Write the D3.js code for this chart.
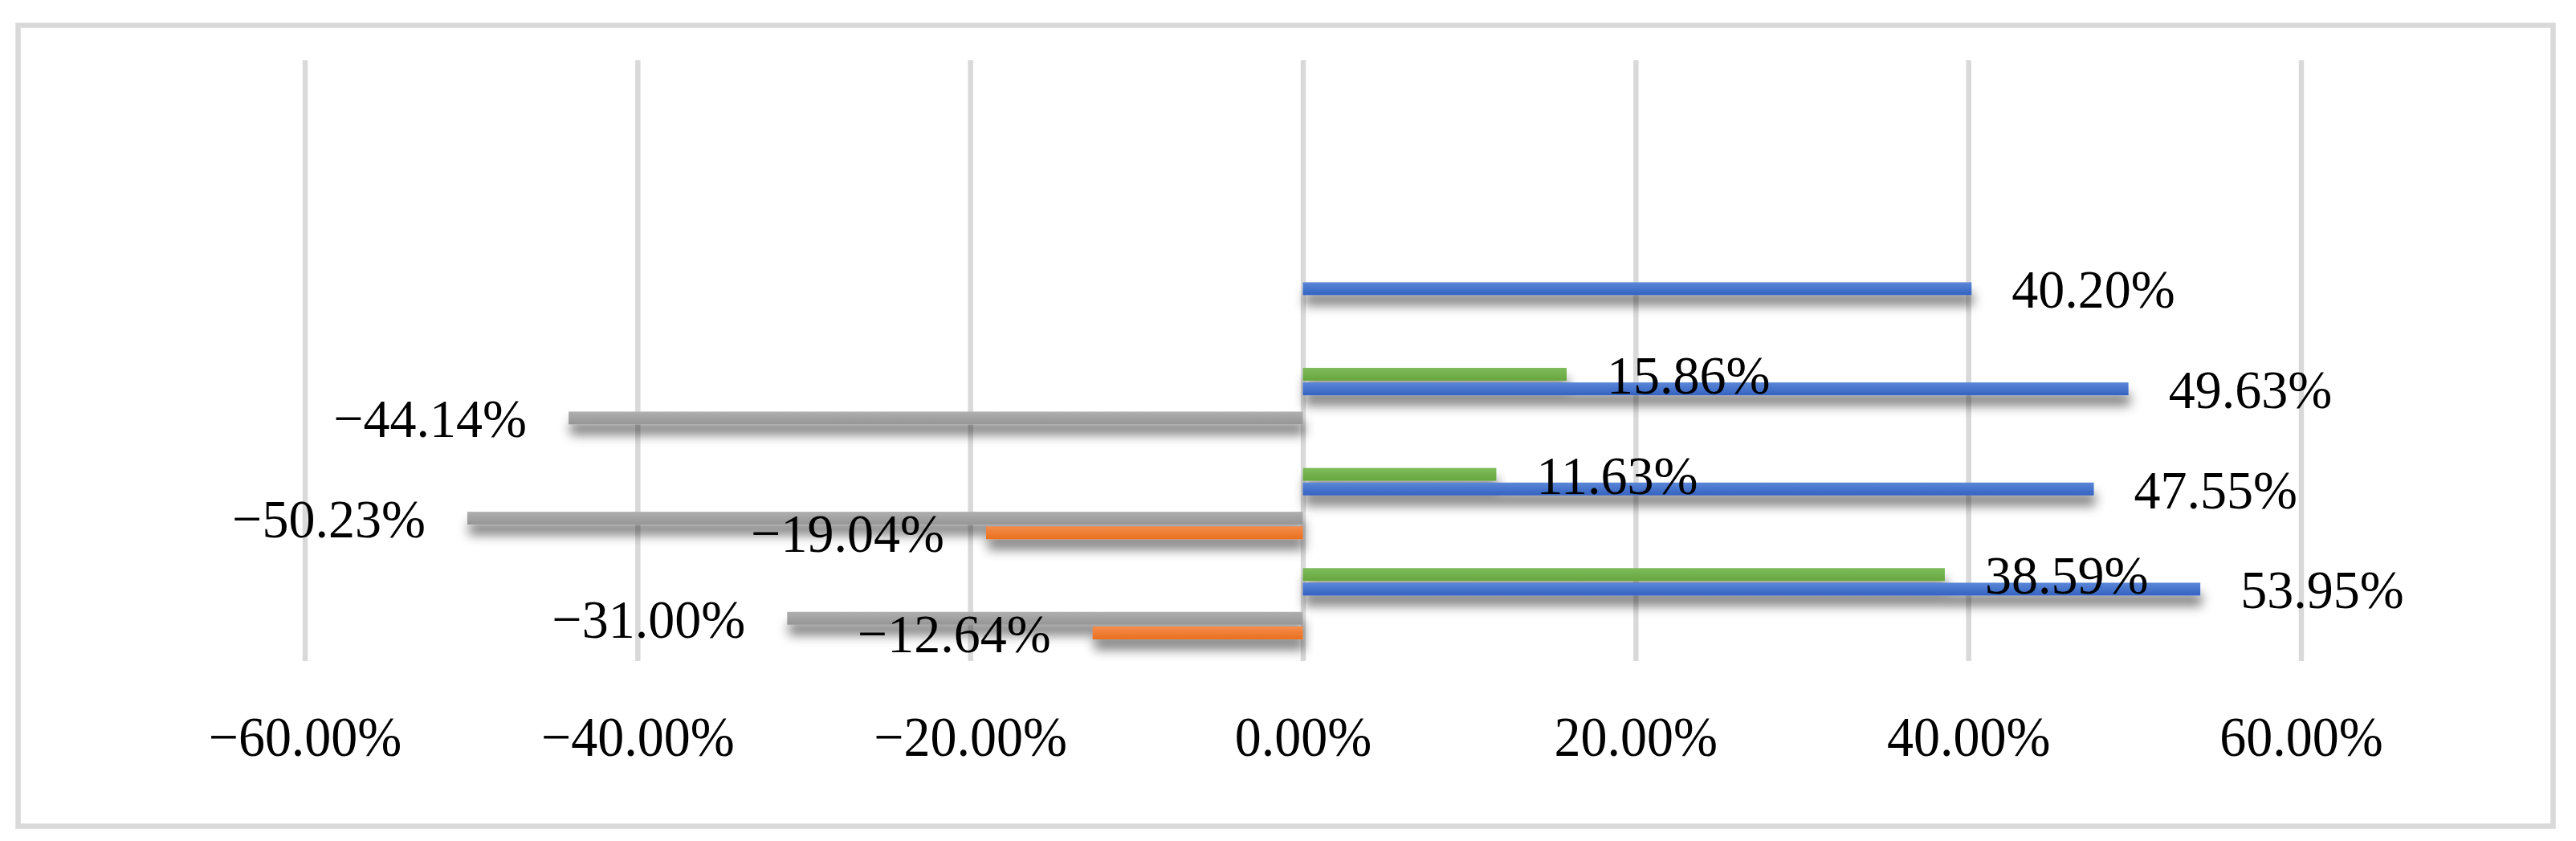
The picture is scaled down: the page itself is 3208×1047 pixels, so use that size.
<!DOCTYPE html>
<html>
<head>
<meta charset="utf-8">
<script src="https://cdn.jsdelivr.net/npm/d3@7"></script>
<style>
  html, body { margin: 0; padding: 0; background: #ffffff; }
  svg { display: block; }
  text { font-family: "Liberation Serif", "Times New Roman", serif; fill: #000; }
</style>
</head>
<body>
<svg id="chart" width="3208" height="1047"></svg>
<script>
// ---- data (top-to-bottom category order; first two rows are empty) ----
const categories = ["Row 1", "Row 2", "Row 3", "Row 4", "Row 5", "Row 6"];
const seriesNames = ["Green", "Blue", "Empty A", "Gray", "Orange", "Empty B"];
const greenValues  = [null, null, null, 15.86, 11.63, 38.59];
const blueValues   = [null, null, 40.20, 49.63, 47.55, 53.95];
const emptyAValues = [null, null, null, null, null, null];
const grayValues   = [null, null, null, -44.14, -50.23, -31.00];
const orangeValues = [null, null, null, null, -19.04, -12.64];
const emptyBValues = [null, null, null, null, null, null];
const tickValues = [-60, -40, -20, 0, 20, 40, 60];

const seriesValues = [greenValues, blueValues, emptyAValues, grayValues, orangeValues, emptyBValues];
const seriesColors = {
  "Green":  ["#7fbb5c", "#66a63d"],
  "Blue":   ["#5b87d8", "#3462c0"],
  "Empty A":["#ffffff", "#ffffff"],
  "Gray":   ["#b0b0b0", "#959595"],
  "Orange": ["#f48d4e", "#e96f1c"],
  "Empty B":["#ffffff", "#ffffff"]
};

const svg = d3.select("#chart");
const W = 3208, H = 1047;
svg.append("rect").attr("width", W).attr("height", H).attr("fill", "#ffffff");

// defs: gradients + shadow
const defs = svg.append("defs");
seriesNames.forEach((s, i) => {
  const g = defs.append("linearGradient").attr("id", "grad" + i)
    .attr("x1", 0).attr("y1", 0).attr("x2", 0).attr("y2", 1);
  g.append("stop").attr("offset", "0%").attr("stop-color", seriesColors[s][0]);
  g.append("stop").attr("offset", "100%").attr("stop-color", seriesColors[s][1]);
});
const f = defs.append("filter").attr("id", "shadow")
  .attr("x", "-5%").attr("y", "-60%").attr("width", "110%").attr("height", "450%");
f.append("feGaussianBlur").attr("in", "SourceAlpha").attr("stdDeviation", 7).attr("result", "b");
f.append("feOffset").attr("in", "b").attr("dx", 2).attr("dy", 13).attr("result", "o");
f.append("feFlood").attr("flood-color", "#000").attr("flood-opacity", 0.5).attr("result", "c");
f.append("feComposite").attr("in", "c").attr("in2", "o").attr("operator", "in").attr("result", "s");
const fm = f.append("feMerge");
fm.append("feMergeNode").attr("in", "s");
fm.append("feMergeNode").attr("in", "SourceGraphic");

// outer border
svg.append("rect")
  .attr("x", 22.5).attr("y", 31.5).attr("width", 3157).attr("height", 997)
  .attr("fill", "none").attr("stroke", "#d9d9d9").attr("stroke-width", 6.5);

// scales
const plotTop = 75, plotBottom = 823;
const x = d3.scaleLinear().domain([-60, 60]).range([379.5, 2865.5]);
const y = d3.scaleBand().domain(categories).range([plotTop, plotBottom]).padding(0);
const ys = d3.scaleBand().domain(seriesNames).range([0, y.bandwidth()])
  .paddingInner(0.12).paddingOuter(0.49);

const fmt = v => d3.format(".2f")(v) + "%";

// axis with gridlines
const axis = d3.axisBottom(x).tickValues(tickValues)
  .tickSize(-(plotBottom - plotTop)).tickFormat(fmt);
const ax = svg.append("g").attr("transform", `translate(0,${plotBottom})`).call(axis);
ax.select(".domain").remove();
ax.selectAll(".tick line").attr("stroke", "#d9d9d9").attr("stroke-width", 6.5);
ax.selectAll(".tick text")
  .attr("y", 0).attr("dy", 0)
  .attr("transform", "translate(0,118) scale(1,1.06)")
  .attr("font-size", 66)
  .attr("font-family", "Liberation Serif, Times New Roman, serif")
  .attr("fill", "#000");

// bars
const rows = [];
seriesNames.forEach((s, si) => {
  categories.forEach((c, ci) => {
    const v = seriesValues[si][ci];
    if (v !== null) rows.push({ s, si, c, v });
  });
});

const barG = svg.append("g");
barG.selectAll("rect").data(rows).join("rect")
  .attr("x", d => x(Math.min(0, d.v)))
  .attr("width", d => Math.abs(x(d.v) - x(0)))
  .attr("y", d => y(d.c) + ys(d.s))
  .attr("height", ys.bandwidth())
  .attr("fill", d => `url(#grad${d.si})`)
  .attr("filter", "url(#shadow)");

// data labels
svg.append("g").selectAll("text").data(rows).join("text")
  .attr("transform", d => {
    const tx = d.v >= 0 ? x(d.v) + 50 : x(d.v) - 52;
    const ty = y(d.c) + ys(d.s) + ys.bandwidth() / 2 + 24;
    return `translate(${tx},${ty}) scale(1,1.04)`;
  })
  .attr("text-anchor", d => d.v >= 0 ? "start" : "end")
  .attr("font-size", 66)
  .text(d => fmt(d.v));
</script>
</body>
</html>
